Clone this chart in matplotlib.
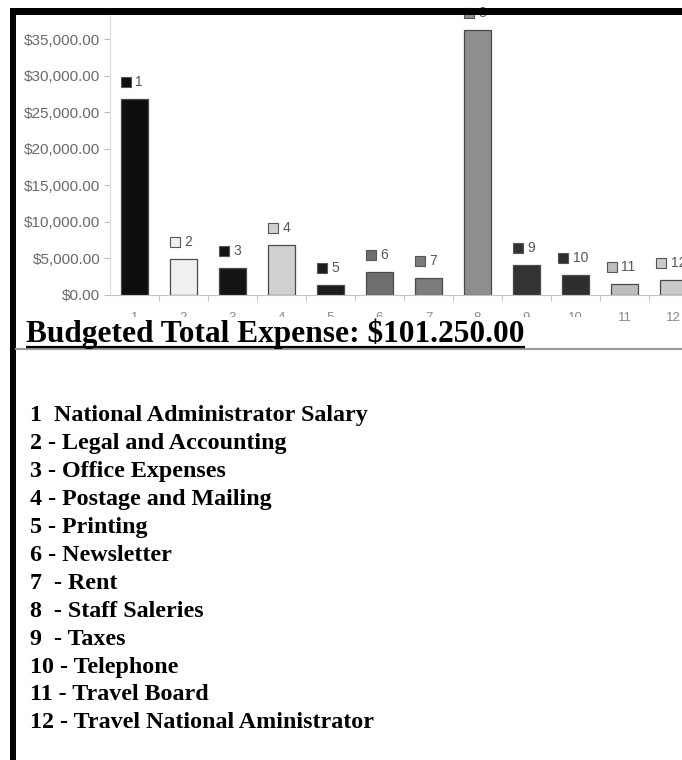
import matplotlib
matplotlib.use("Agg")
import matplotlib.pyplot as plt
from matplotlib.patches import Rectangle
from matplotlib.transforms import offset_copy
from matplotlib.ticker import FuncFormatter, FixedLocator

# data
categorias = [1, 2, 3, 4, 5, 6, 7, 8, 9, 10, 11, 12]
gastos = [26800, 4900, 3700, 6800, 1400, 3100, 2300, 36250, 4100, 2700, 1500, 2000]
colores = ['#0e0e0e', '#f0f0f0', '#141414', '#d0d0d0', '#1c1c1c', '#6e6e6e',
           '#7c7c7c', '#8e8e8e', '#333333', '#2e2e2e', '#bdbdbd', '#c9c9c9']
titulo = "Budgeted Total Expense: $101.250.00"
leyenda = [
    "1  National Administrator Salary",
    "2 - Legal and Accounting",
    "3 - Office Expenses",
    "4 - Postage and Mailing",
    "5 - Printing",
    "6 - Newsletter",
    "7  - Rent",
    "8  - Staff Saleries",
    "9  - Taxes",
    "10 - Telephone",
    "11 - Travel Board",
    "12 - Travel National Aministrator",
]

W, H = 682, 760
fig = plt.figure(figsize=(W / 100, H / 100), dpi=100)

# chart axes (runs past the right edge, like the cropped scan)
ax_left, ax_bottom, ax_right, ax_top = 110, 295, 698, 10
ax = fig.add_axes([ax_left / W, 1 - ax_bottom / H,
                   (ax_right - ax_left) / W, (ax_bottom - ax_top) / H])
ax.bar(categorias, gastos, width=0.55, color=colores, edgecolor='#4a4a4a', linewidth=0.9)
ax.set_xlim(0.5, 12.5)
ax.set_ylim(0, 39000)

ax.yaxis.set_major_locator(FixedLocator(range(0, 35001, 5000)))
ax.yaxis.set_major_formatter(FuncFormatter(lambda v, p: "${:,.2f}".format(v)))
ax.set_xticks(categorias)
ax.set_xticks([c + 0.5 for c in categorias[:-1]], minor=True)
ax.tick_params(axis='y', length=4, color='#bbbbbb', pad=3, labelsize=11, labelcolor='#6a6a6a')
ax.tick_params(axis='x', which='major', length=0, pad=12, labelsize=9.5, labelcolor='#8a8a8a')
ax.tick_params(axis='x', which='minor', length=4, color='#bbbbbb')
for lab in ax.get_xticklabels() + ax.get_yticklabels():
    lab.set_fontfamily('Liberation Sans')
ax.spines['top'].set_visible(False)
ax.spines['right'].set_visible(False)
ax.spines['left'].set_color('#dddddd')
ax.spines['bottom'].set_color('#c4c4c4')

# small legend-key labels above every bar
for c, v, col in zip(categorias, gastos, colores):
    extra = 4 * (len(str(c)) - 1)
    tm = offset_copy(ax.transData, fig=fig, x=-9 - extra, y=17, units='dots')
    ax.plot([c], [v], marker='s', markersize=7.5, color=col, markeredgecolor='#555555',
            markeredgewidth=0.8, transform=tm, clip_on=False)
    tt = offset_copy(ax.transData, fig=fig, x=1 - extra, y=17, units='dots')
    ax.text(c, v, str(c), transform=tt, fontsize=10, color='#555555', ha='left',
            va='center', family='Liberation Sans', clip_on=False)

# page overlay in pixel coordinates
ov = fig.add_axes([0, 0, 1, 1], zorder=10)
ov.set_xlim(0, W)
ov.set_ylim(H, 0)
ov.axis('off')
ov.patch.set_alpha(0)

ov.plot([16, W], [349, 349], color='#9a9a9a', lw=1.5)
ov.add_patch(Rectangle((24, 317), 569, 45, color='white', lw=0))
t = ov.text(26, 342, titulo, fontsize=22.6, fontweight='bold', family='Liberation Serif',
            ha='left', va='baseline', color='black')
fig.canvas.draw()
bb = t.get_window_extent()
ov.plot([bb.x0, bb.x1], [347, 347], color='black', lw=1.6, solid_capstyle='butt')

for i, linea in enumerate(leyenda):
    ov.text(30, 421.5 + i * 27.9, linea, fontsize=17.3, fontweight='bold',
            family='Liberation Serif', ha='left', va='baseline', color='black')

# thick black frame on the left and top
ov.add_patch(Rectangle((10, 8), 6, H - 8, color='black', lw=0))
ov.add_patch(Rectangle((10, 8), W - 10, 7, color='black', lw=0))

fig.savefig("out.png", dpi=100)
